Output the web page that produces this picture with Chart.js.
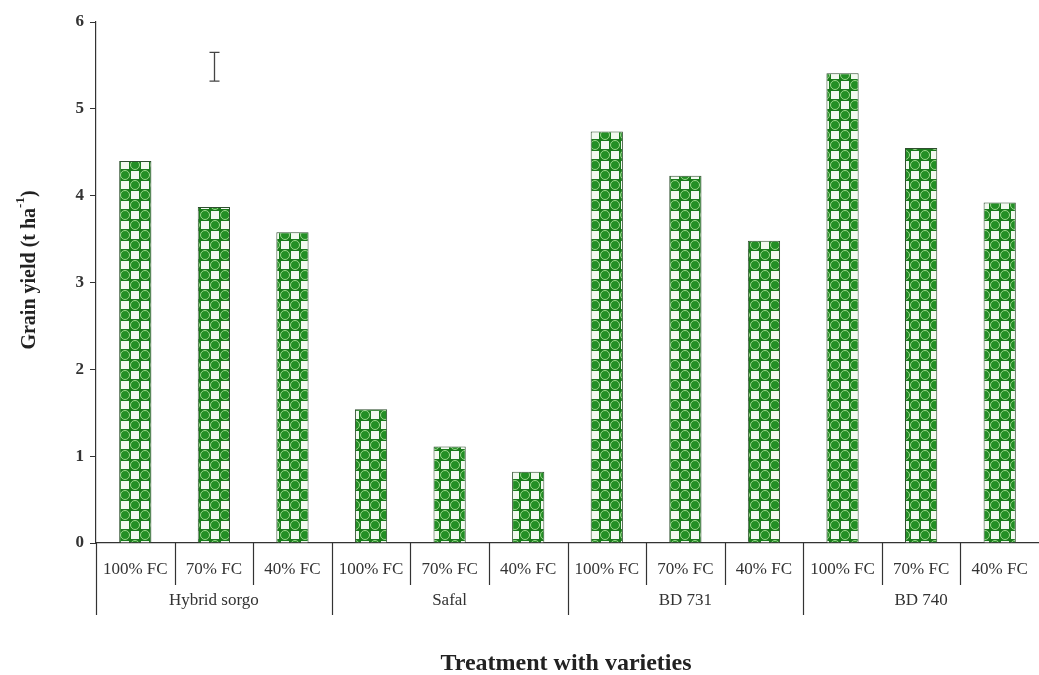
<!DOCTYPE html>
<html>
<head>
<meta charset="utf-8">
<script src="https://cdn.jsdelivr.net/npm/chart.js@4.4.0/dist/chart.umd.min.js"></script>
<style>
  html, body { margin: 0; padding: 0; background: #fff; }
  #wrap { width: 1039px; height: 675px; }
</style>
</head>
<body>
<div id="wrap"><canvas id="yieldChart" width="1039" height="675"></canvas></div>
<script>
// Data
const treatments = ['100% FC', '70% FC', '40% FC', '100% FC', '70% FC', '40% FC',
                    '100% FC', '70% FC', '40% FC', '100% FC', '70% FC', '40% FC'];
const varieties = ['Hybrid sorgo', 'Safal', 'BD 731', 'BD 740'];
const grainYield = [4.40, 3.87, 3.58, 1.54, 1.11, 0.82, 4.74, 4.23, 3.48, 5.41, 4.55, 3.92];
const yTicks = [0, 1, 2, 3, 4, 5, 6];
// LSD bar drawn above the 2nd category
const lsdIndex = 1;
const lsdRange = [5.32, 5.65];

const serif = '"Liberation Serif", "DejaVu Serif", serif';

function makePattern() {
    const c = document.createElement('canvas');
    c.width = 20; c.height = 20;
    const g = c.getContext('2d');
    g.fillStyle = '#1a7c1c';
    g.fillRect(0, 0, 20, 20);
    g.fillStyle = '#f2faef';
    g.fillRect(1, 1, 8, 8);
    g.fillRect(11, 11, 8, 8);
    // green discs with a pale rim, sitting on the dark cells
    g.fillStyle = '#238f25';
    g.strokeStyle = '#9bd68c';
    g.lineWidth = 1;
    [[15, 5], [5, 15]].forEach(([cx, cy]) => {
        g.beginPath();
        g.arc(cx, cy, 4.5, 0, Math.PI * 2);
        g.fill();
        g.stroke();
    });
    return g.createPattern(c, 'repeat');
}

const axisDecor = {
    id: 'axisDecor',
    afterDraw(chart) {
        const ctx = chart.ctx;
        const x = chart.scales.x;
        const y = chart.scales.y;
        const area = chart.chartArea;
        const step = x.getPixelForValue(1) - x.getPixelForValue(0);
        ctx.save();
        ctx.strokeStyle = '#333';
        ctx.lineWidth = 1.2;
        // separators between treatments and between varieties
        for (let i = 0; i < treatments.length; i++) {
            const px = Math.round(x.getPixelForValue(i) - step / 2) + 0.5;
            const isGroup = i % 3 === 0;
            ctx.beginPath();
            ctx.moveTo(px, area.bottom);
            ctx.lineTo(px, area.bottom + (isGroup ? 72 : 42));
            ctx.stroke();
        }
        ctx.fillStyle = '#333';
        ctx.textAlign = 'center';
        ctx.textBaseline = 'middle';
        ctx.font = '17px ' + serif;
        treatments.forEach((t, i) => {
            ctx.fillText(t, x.getPixelForValue(i), area.bottom + 27);
        });
        varieties.forEach((v, k) => {
            ctx.fillText(v, x.getPixelForValue(k * 3 + 1), area.bottom + 58);
        });
        // x title
        ctx.font = 'bold 24px ' + serif;
        ctx.fillStyle = '#222';
        ctx.fillText('Treatment with varieties', 566, 664);
        // y title with superscript
        ctx.translate(30, 270);
        ctx.rotate(-Math.PI / 2);
        ctx.textAlign = 'left';
        const main = 'Grain yield (t ha';
        ctx.font = 'bold 20px ' + serif;
        const w1 = ctx.measureText(main).width;
        ctx.font = 'bold 13px ' + serif;
        const w2 = ctx.measureText('-1').width;
        ctx.font = 'bold 20px ' + serif;
        const w3 = ctx.measureText(')').width;
        const start = -(w1 + w2 + w3) / 2;
        ctx.fillText(main, start, 0);
        ctx.font = 'bold 13px ' + serif;
        ctx.fillText('-1', start + w1, -9);
        ctx.font = 'bold 20px ' + serif;
        ctx.fillText(')', start + w1 + w2, 0);
        ctx.restore();

        // LSD error bar
        ctx.save();
        ctx.strokeStyle = '#444';
        ctx.lineWidth = 1.3;
        const lx = Math.round(x.getPixelForValue(lsdIndex)) + 0.5;
        const y1 = y.getPixelForValue(lsdRange[1]);
        const y0 = y.getPixelForValue(lsdRange[0]);
        ctx.beginPath();
        ctx.moveTo(lx, y1); ctx.lineTo(lx, y0);
        ctx.moveTo(lx - 5, y1); ctx.lineTo(lx + 5, y1);
        ctx.moveTo(lx - 5, y0); ctx.lineTo(lx + 5, y0);
        ctx.stroke();
        ctx.restore();
    }
};

document.addEventListener('DOMContentLoaded', function() {
    const ctx = document.getElementById('yieldChart');
    new Chart(ctx, {
        type: 'bar',
        data: {
            labels: treatments,
            datasets: [{
                data: grainYield,
                backgroundColor: makePattern(),
                borderColor: '#2f4f2f',
                borderWidth: 1,
                categoryPercentage: 1,
                barPercentage: 0.41
            }]
        },
        options: {
            responsive: false,
            animation: false,
            layout: { padding: { top: 22, right: 0, left: 0, bottom: 0 } },
            plugins: {
                legend: { display: false },
                tooltip: { enabled: false }
            },
            scales: {
                x: {
                    grid: { display: false },
                    border: { color: '#333', width: 1.2 },
                    ticks: { display: false },
                    afterFit: function(scale) { scale.height = 132; }
                },
                y: {
                    min: 0,
                    max: 6,
                    afterBuildTicks: function(scale) {
                        scale.ticks = yTicks.map(v => ({ value: v }));
                    },
                    grid: {
                        drawOnChartArea: false,
                        drawTicks: true,
                        tickLength: 6,
                        color: '#333'
                    },
                    border: { color: '#333', width: 1.2 },
                    ticks: {
                        color: '#333',
                        padding: 6,
                        font: { family: serif, size: 17, weight: 'bold' }
                    },
                    afterFit: function(scale) { scale.width = 96; }
                }
            }
        },
        plugins: [axisDecor]
    });
});
</script>
</body>
</html>
